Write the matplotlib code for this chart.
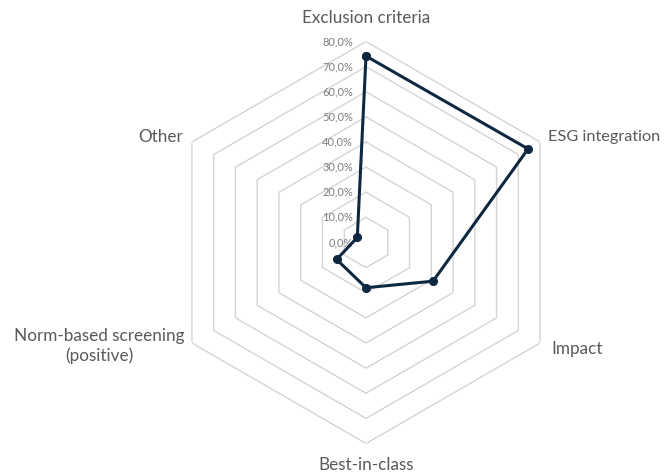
import numpy as np
import matplotlib
matplotlib.use("Agg")
import matplotlib.pyplot as plt

categories = ["Exclusion criteria", "ESG integration", "Impact", "Best-in-class",
              "Norm-based screening\n(positive)", "Other"]
values = [74.2, 74.5, 30.8, 18.0, 13.5, 4.0]
ticks = [0, 10, 20, 30, 40, 50, 60, 70, 80]
tick_labels = ["0,0%", "10,0%", "20,0%", "30,0%", "40,0%", "50,0%", "60,0%", "70,0%", "80,0%"]

plt.rcParams['font.family'] = ['Lato', 'DejaVu Sans']

fig = plt.figure(figsize=(6.65, 4.75), dpi=100)
ax = fig.add_axes([165/665, (475-443.5)/475, 402/665, 402/475], projection='polar')
ax.set_theta_zero_location('N')
ax.set_theta_direction(-1)
ax.set_ylim(0, 80)
ax.grid(False)
ax.set_xticks([])
ax.set_yticks([])
ax.spines['polar'].set_visible(False)
ax.patch.set_visible(False)

n = len(categories)
angles = np.arange(n) * 2 * np.pi / n
closed = np.append(angles, angles[0])

for t in ticks[1:]:
    ax.plot(closed, [t] * (n + 1), color='#d4d4d4', lw=1.0, zorder=1)

vals = values + values[:1]
ax.plot(closed, vals, color='#0e2841', lw=2.2, marker='o', markersize=5.5, zorder=3, clip_on=False)

for t, lab in zip(ticks, tick_labels):
    ax.annotate(lab, xy=(0, t), xytext=(-13, 0), textcoords='offset pixels',
                ha='right', va='center', fontsize=8.0, color='#7f7f7f', zorder=2)

offsets = [((0, 23.5), 'center', 'center', 12.3),
           ((8, 5), 'left', 'center', 11.7),
           ((11, -6), 'left', 'center', 12.3),
           ((0, -21.5), 'center', 'center', 12.3),
           ((-7, -3), 'right', 'center', 12.3),
           ((-9, 5), 'right', 'center', 12.3)]
for ang, lab, (off, ha, va, fs) in zip(angles, categories, offsets):
    ax.annotate(lab, xy=(ang, 80), xytext=off, textcoords='offset pixels',
                ha=ha, va=va, fontsize=fs, color='#595959', multialignment='center',
                annotation_clip=False)

fig.savefig('out.png', dpi=100)
